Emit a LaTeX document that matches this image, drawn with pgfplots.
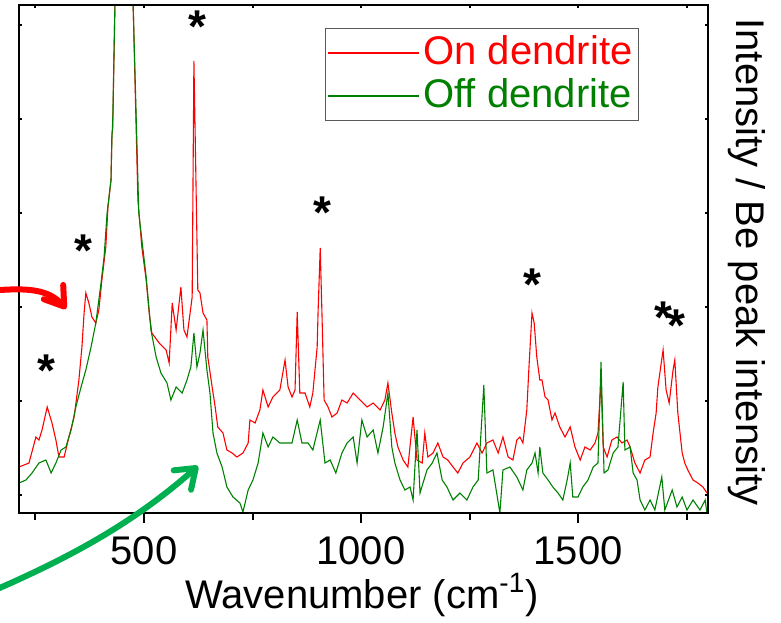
\documentclass[border=0pt]{standalone}
\usepackage{pgfplots}
\pgfplotsset{compat=1.18}
\usepackage{pgfplotstable}
\usepackage{fontspec}
\setmainfont{Liberation Sans}
\usetikzlibrary{arrows.meta,bending}
\definecolor{offgreen}{RGB}{0,128,0}
\definecolor{arrgreen}{RGB}{0,176,80}
\definecolor{legframe}{RGB}{90,90,90}

\pgfplotstableread{
wn y
212 46
235 50
251 76
258 73
265 83
277 106
288 90
297 73
304 56
316 56
327 76
339 96
350 133
357 166
362 200
366 220
373 210
380 196
389 190
396 203
403 233
412 266
417 306
424 333
426 378
428 385
433 508
454 1500
475 508
486 313
495 266
505 233
512 200
518 180
535 170
551 163
558 150
565 210
574 183
585 226
592 183
599 176
611 216
615 452
624 223
629 220
636 200
645 193
647 156
657 126
664 106
670 86
682 80
691 63
703 60
714 56
728 60
740 70
744 93
756 90
767 103
774 123
786 106
797 116
813 123
825 153
832 126
841 116
848 123
853 201
859 120
871 120
882 106
889 120
899 166
901 200
906 265
910 200
915 113
924 106
933 96
945 100
956 113
968 110
982 120
998 113
1014 106
1028 110
1044 103
1055 113
1062 130
1071 100
1078 80
1085 66
1097 53
1108 46
1120 96
1129 53
1141 50
1147 80
1154 56
1166 60
1177 70
1189 56
1200 53
1212 46
1223 40
1235 50
1251 56
1267 70
1279 60
1290 70
1304 73
1316 60
1327 76
1339 56
1350 53
1359 73
1366 76
1373 70
1382 103
1387 146
1394 200
1399 190
1405 156
1412 133
1417 133
1424 116
1431 113
1440 93
1447 100
1458 86
1470 76
1482 86
1493 66
1505 53
1516 66
1528 63
1539 70
1546 80
1553 133
1558 66
1567 56
1578 73
1590 76
1601 70
1613 73
1620 66
1631 50
1643 40
1654 53
1666 56
1673 80
1680 100
1684 126
1696 163
1703 123
1710 110
1719 143
1723 153
1730 100
1740 60
1746 50
1753 43
1765 33
1776 30
1788 26
1797 20
}\ondata

\pgfplotstableread{
wn y
212 30
228 33
242 40
258 50
274 53
286 40
297 50
309 63
320 66
332 83
343 106
355 126
366 143
378 166
389 190
401 230
408 256
415 300
424 333
426 373
428 393
433 508
454 1500
475 508
488 300
505 236
516 183
528 156
539 140
553 130
562 113
574 126
588 120
599 133
608 146
615 180
622 146
629 160
636 183
645 143
652 120
659 80
668 60
680 46
691 26
705 16
721 10
728 1
740 23
751 33
763 50
774 80
786 66
797 76
813 70
829 70
841 70
853 93
864 70
878 70
889 63
906 93
917 50
929 53
942 40
956 60
968 70
982 76
991 50
1002 93
1014 76
1028 83
1039 60
1051 86
1062 120
1071 66
1078 50
1090 33
1101 23
1113 26
1120 13
1129 83
1136 20
1152 43
1164 50
1175 60
1187 33
1198 26
1212 13
1228 20
1244 13
1258 26
1270 33
1283 128
1290 40
1304 43
1320 0
1327 43
1343 46
1359 36
1373 23
1382 43
1394 50
1401 60
1408 40
1412 66
1419 40
1431 33
1442 26
1454 20
1465 13
1475 33
1482 50
1488 16
1500 16
1511 26
1523 33
1535 46
1546 50
1553 151
1560 40
1569 43
1581 60
1592 66
1604 131
1608 63
1620 66
1627 40
1636 33
1643 13
1654 3
1666 13
1677 3
1693 36
1700 3
1717 23
1728 6
1740 16
1751 3
1765 13
1781 3
1793 13
1797 0
}\offdata

\begin{document}
\fontsize{20}{24}\selectfont
\begin{tikzpicture}
\begin{axis}[
  scale only axis, width=344.5pt, height=254pt,
  xmin=212, xmax=1799.5, ymin=0, ymax=508,
  xtick={500,1000,1500}, minor xtick={250,750,1250,1750},
  xtick pos=bottom, ytick=\empty,
  tick align=outside, major tick length=5pt, minor tick length=3.5pt,
  tick style={black, line width=1pt},
  axis line style={black, line width=1pt},
  /pgf/number format/assume math mode=true,
  xticklabel style={font=\fontsize{20}{24}\selectfont, /pgf/number format/1000 sep={}},
  legend style={at={(axis cs:1640.5,485)}, anchor=north east, draw=legframe, line width=0.5pt,
    font=\fontsize{20}{24}\selectfont, inner xsep=1pt, inner ysep=1.5pt, row sep=0pt,
    cells={anchor=west}},
  legend image code/.code={\draw[#1] (-2pt,0pt) -- (43.5pt,0pt);},
]
\addplot[red, line width=0.55pt] table[x=wn, y=y] {\ondata};
\addlegendentry{\textcolor{red}{On dendrite}}
\addplot[offgreen, line width=0.55pt] table[x=wn, y=y] {\offdata};
\addlegendentry{\textcolor{offgreen}{Off dendrite}}
\coordinate (PX0) at (axis cs:168.224,513);
\end{axis}
\begin{axis}[
  scale only axis, width=344.5pt, height=254pt,
  xmin=212, xmax=1799.5, ymin=0, ymax=508,
  xtick={250,500,...,1750}, xticklabels={}, xtick pos=top,
  ytick={18,112,206,300,394,488}, yticklabels={}, ytick pos=both,
  tick align=inside, major tick length=1.5pt,
  tick style={black, line width=1pt},
  axis line style={black, line width=1pt},
]
\end{axis}
\begin{scope}[shift={(PX0)}, x=0.5pt, y=-0.5pt]
  \draw[red, line width=3pt, line cap=round, -{Straight Barb[length=9pt, width=12pt, round, flex]}]
    (0,290) .. controls (32,288) and (52,290) .. (66,309);
  \draw[arrgreen, line width=3pt, line cap=round, -{Straight Barb[length=9pt, width=13pt, round, flex]}]
    (-5,590) .. controls (80,553) and (140,518) .. (198,466);
  \foreach \ax/\ay in {46/362, 83/242, 197/18, 322/204, 532/276, 663/309, 676/317}
    \node[anchor=north, inner sep=0pt, font=\bfseries\fontsize{23}{26}\selectfont] at (\ax,\ay-8) {*};
  \node[rotate=-90, anchor=base, inner sep=0pt] at (736,262) {Intensity / Be peak intensity};
  \node[anchor=base, inner sep=0pt] at (362,608) {Wavenumber (cm\textsuperscript{-1})};
  \pgfresetboundingbox
  \path[use as bounding box] (0,0) rectangle (781,622);
\end{scope}
\end{tikzpicture}
\end{document}
